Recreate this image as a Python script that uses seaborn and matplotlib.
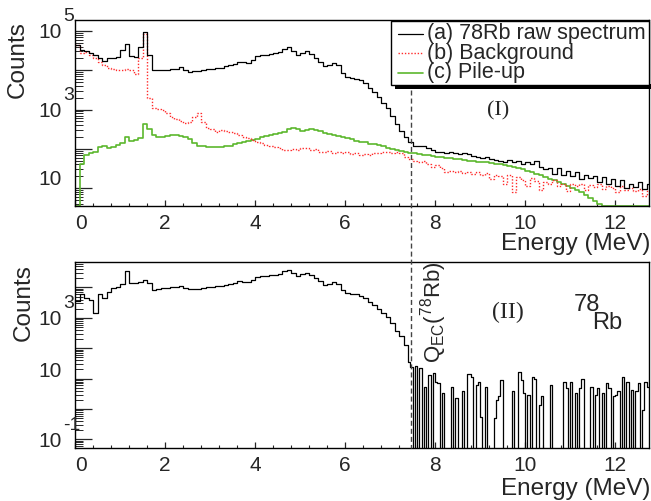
import numpy as np
import pandas as pd
import matplotlib
matplotlib.use("Agg")
import matplotlib.pyplot as plt
import matplotlib.transforms as mtransforms
from matplotlib.lines import Line2D
from matplotlib.patches import Rectangle
from matplotlib.ticker import LogLocator, MultipleLocator, NullFormatter, FixedLocator, FixedFormatter
import seaborn as sns

# ---------------- data ----------------
# top panel: 0.1 MeV bins from 0 to 12.8 MeV
top_edges = np.round(np.arange(0, 12.8 + 1e-9, 0.1), 3)

raw_counts = [
    45000, 32000, 30000, 28000, 24000, 20000, 17000, 20000, 21000, 22000,
    32000, 46000, 23000, 22000, 40000, 95000, 25000, 10000, 10000, 10000,
    10200, 10700, 11000, 12000, 10000, 9100, 9300, 9500, 10000, 10500,
    11000, 11500, 11700, 12600, 13500, 14800, 16200, 15800, 15500, 18600,
    22400, 24500, 24500, 25700, 27000, 29500, 35500, 39000, 31600, 24500,
    27500, 31000, 26300, 21000, 16600, 12600, 13200, 15500, 13200, 8500,
    6800, 6300, 6000, 5500, 4600, 3500, 2750, 2100, 1500, 1120,
    700, 420, 280, 200, 150, 120, 115, 120, 107, 93,
    83, 85, 79, 83, 76, 72, 79, 74, 66, 63,
    60, 63, 55, 52, 48, 46, 52, 45, 50, 42,
    46, 40, 48, 35, 30, 33, 23, 32, 21, 28,
    20, 25, 17, 22, 18, 20, 14, 19, 13, 17,
    11, 16, 10, 12.6, 10.5, 14, 9.5, 12.6,
]

background_counts = [
    45000, 28000, 29000, 25000, 20000, 16000, 13800, 11700, 10700, 10000,
    10000, 10500, 10000, 8000, 20000, 85000, 2000, 1120, 1050, 1000,
    830, 660, 575, 525, 457, 480, 630, 800, 480, 330,
    316, 275, 295, 280, 263, 250, 230, 200, 190, 166,
    151, 138, 126, 120, 112, 105, 95, 91, 100, 93,
    102, 105, 93, 98, 85, 83, 87, 79, 83, 76,
    81, 72, 79, 71, 74, 69, 76, 79, 85, 83,
    79, 85, 76, 63, 55, 50, 46, 48, 42, 35,
    38, 32, 26, 28, 25, 27, 24, 25, 23, 25,
    21, 24, 17, 22, 20, 12.6, 21, 8, 19, 16,
    11, 18, 15, 9, 14, 13, 16, 11, 12.6, 8.3,
    13, 11, 12.6, 9, 12, 10.5, 12.6, 9.5, 11, 10,
    8, 11, 9, 10, 8.3, 9.5, 6.3, 9,
]

pileup_counts = [
    0, 40, 71, 79, 85, 112, 120, 105, 112, 126,
    141, 200, 158, 166, 190, 417, 316, 224, 200, 200,
    209, 219, 219, 209, 200, 178, 141, 120, 115, 112,
    112, 112, 112, 115, 120, 129, 138, 145, 155, 170,
    182, 195, 209, 224, 234, 251, 275, 316, 339, 316,
    288, 302, 324, 309, 282, 251, 234, 224, 214, 200,
    186, 174, 162, 151, 145, 135, 129, 126, 115, 105,
    100, 93, 89, 83, 79, 78, 74, 71, 69, 66,
    63, 62, 59, 58, 55, 54, 52, 50, 49, 47,
    46, 45, 43, 42, 40, 38, 36, 35, 32, 30,
    27.5, 25, 23, 21, 19, 17.4, 15.8, 14.1, 12.9, 11.5,
    10.2, 8.9, 7.8, 6.6, 5.6, 4.8, 4.0, 0, 0, 0,
    0, 0, 0, 0, 0, 0, 0, 0,
]

# bottom panel: 0.1 MeV bins up to 7.4 MeV, then 0.05 MeV bins
net_low_edges = np.round(np.arange(0, 7.4 + 1e-9, 0.1), 3)
net_tail_edges = np.round(np.arange(7.4, 12.75 + 1e-9, 0.05), 3)

net_counts_low = [
    3500, 6300, 4600, 3900, 1450, 6300, 4600, 7100, 9500, 10000,
    12600, 35500, 14100, 14500, 15100, 17400, 14100, 8500, 9100, 9300,
    9800, 10200, 10700, 11500, 9500, 8700, 8900, 8900, 9800, 10200,
    10700, 11200, 11500, 12300, 13200, 14500, 15800, 15500, 15100, 18200,
    21900, 24000, 24000, 25100, 26300, 28800, 34700, 38000, 30900, 24000,
    26900, 30200, 25700, 20400, 16200, 12300, 12900, 15100, 12900, 8300,
    6600, 6200, 5900, 5400, 4400, 3400, 2600, 2000, 1450, 1070,
    660, 380, 250, 126,
]

net_counts_tail = [
    35,
    25, 0, 26, 0, 22, 0, 5.5, 0, 13, 0,
    15, 8, 7, 0, 3.3, 0, 0, 0, 5.5, 0,
    2.3, 0, 0, 3.8, 0, 14, 14, 11.5, 0, 6.3,
    8, 0.54, 0, 5.5, 0, 0, 0, 0.5, 2.0, 2.6,
    9, 0, 0, 0, 0, 3.8, 0, 0, 16, 9,
    3.3, 0, 2.9, 0, 11.5, 9.5, 0, 1.4, 2.6, 0,
    0, 0, 6.3, 0, 0, 0, 0, 0, 8, 4.9,
    0, 8, 0, 3.3, 0, 4.9, 10, 0, 0, 0,
    5.5, 0, 2.9, 4.9, 0, 3.3, 0, 7.4, 4.9, 0,
    2.6, 2.9, 3.8, 0, 11.5, 0, 8, 0, 4.3, 0,
    3.8, 7, 0, 0.93, 8, 5.5,
]

q_ec = 7.46
series_labels = ["(a) 78Rb raw spectrum", "(b) Background", "(c) Pile-up"]

# ---------------- style ----------------
sns.set_style("ticks")
plt.rcParams["font.family"] = ["Liberation Sans", "DejaVu Sans"]
plt.rcParams["mathtext.fontset"] = "custom"
plt.rcParams["mathtext.rm"] = "Liberation Sans"
plt.rcParams["mathtext.it"] = "Liberation Sans:italic"
plt.rcParams["mathtext.bf"] = "Liberation Sans:bold"

W, H = 651, 501
fig = plt.figure(figsize=(W / 100, H / 100), dpi=100)


def box(l, t, r, b):
    return [l / W, 1 - b / H, (r - l) / W, (b - t) / H]


ax1 = fig.add_axes(box(75, 20, 649, 205.5))
ax2 = fig.add_axes(box(75, 262, 649, 448))

BLACK = "#000000"
RED = "#ff2a2a"
GREEN = "#5cb82e"
RED_LS = (0, (1.0, 1.3))


def steps(edges, vals, floor):
    v = np.asarray(vals, float)
    v = np.where(v > 0, v, floor)
    return pd.DataFrame({"E": np.asarray(edges, float), "C": np.append(v, v[-1])})


for ax in (ax1, ax2):
    ax.set_yscale("log")

ylim_top = (3.6, 1.9e5)
ylim_bot = (0.052, 6.9e4)

sns.lineplot(data=steps(top_edges, pileup_counts, ylim_top[0]), x="E", y="C", ax=ax1,
             drawstyle="steps-post", color=GREEN, lw=1.2, estimator=None, sort=False, legend=False)
sns.lineplot(data=steps(top_edges, background_counts, 1e-3), x="E", y="C", ax=ax1,
             drawstyle="steps-post", color=RED, lw=1.0, estimator=None, sort=False, legend=False)
ax1.lines[-1].set_linestyle(RED_LS)
sns.lineplot(data=steps(top_edges, raw_counts, 1e-3), x="E", y="C", ax=ax1,
             drawstyle="steps-post", color=BLACK, lw=0.9, estimator=None, sort=False, legend=False)

bot_edges = np.concatenate([net_low_edges, net_tail_edges[1:]])
bot_vals = list(net_counts_low) + list(net_counts_tail)
sns.lineplot(data=steps(bot_edges, bot_vals, 1e-3), x="E", y="C", ax=ax2,
             drawstyle="steps-post", color=BLACK, lw=0.9, estimator=None, sort=False, legend=False)

ax1.set_ylim(*ylim_top)
ax2.set_ylim(*ylim_bot)

for ax in (ax1, ax2):
    ax.set_xlim(0, 12.75)
    ax.set_xlabel("")
    ax.set_ylabel("")
    for s in ax.spines.values():
        s.set_visible(True)
        s.set_linewidth(1.0)
        s.set_color("black")
    ax.xaxis.set_major_locator(FixedLocator([0, 2, 4, 6, 8, 10, 12]))
    ax.xaxis.set_major_formatter(FixedFormatter(["0", "2", "4", "6", "8", "10", "12"]))
    ax.xaxis.set_minor_locator(MultipleLocator(0.4))
    ax.yaxis.set_major_locator(LogLocator(base=10, numticks=20))
    ax.yaxis.set_minor_locator(LogLocator(base=10, subs=np.arange(2, 10), numticks=40))
    ax.yaxis.set_major_formatter(NullFormatter())
    ax.yaxis.set_minor_formatter(NullFormatter())
    ax.tick_params(axis="x", which="major", direction="in", length=4, width=0.9,
                   labelsize=15, pad=6, top=False)
    ax.tick_params(axis="x", which="minor", direction="in", length=2, width=0.8, top=False)
    ax.tick_params(axis="y", which="major", direction="in", length=12, width=0.9, right=False)
    ax.tick_params(axis="y", which="minor", direction="in", length=6, width=0.7, right=False)
    ax.set_facecolor("white")
    ax.get_xticklabels()[0].set_horizontalalignment("left")


def ylab(ax, decade, plain_dy):
    blend = mtransforms.blended_transform_factory(ax.transAxes, ax.transData)
    if decade == 1:
        ax.annotate("10", xy=(0, 10.0 ** decade), xycoords=blend,
                    xytext=(-13, plain_dy), textcoords="offset pixels",
                    ha="right", va="center", fontsize=15, annotation_clip=False)
    else:
        ax.annotate("10", xy=(0, 10.0 ** decade), xycoords=blend,
                    xytext=(-13, -2), textcoords="offset pixels",
                    ha="right", va="center", fontsize=15, annotation_clip=False)
        ax.annotate(str(decade), xy=(0, 10.0 ** decade), xycoords=blend,
                    xytext=(-12, 14), textcoords="offset pixels",
                    ha="left", va="center", fontsize=14, annotation_clip=False)


for d in (1, 3, 5):
    ylab(ax1, d, 9)
for d in (-1, 1, 3):
    ylab(ax2, d, 7)

# axis titles
fig.text(18 / W, 1 - 21 / H, "Counts", rotation=90, ha="center", va="top", fontsize=17.5)
fig.text(24 / W, 1 - 264 / H, "Counts", rotation=90, ha="center", va="top", fontsize=17.5)
fig.text(650 / W, 1 - 244 / H, "Energy (MeV)", ha="right", va="center", fontsize=17.5)
fig.text(650 / W, 1 - 489 / H, "Energy (MeV)", ha="right", va="center", fontsize=17.5)

# legend (ROOT-like box with shadow)
fig.add_artist(Rectangle((395 / W, 1 - 89 / H), (652 - 395) / W, 4.5 / H,
                         transform=fig.transFigure, fc="black", ec="none", zorder=5))
fig.add_artist(Rectangle((391 / W, 1 - 85 / H), (649 - 391) / W, (85 - 21) / H,
                         transform=fig.transFigure, fc="white", ec="black", lw=1.0, zorder=6))
leg_styles = [dict(color=BLACK, lw=0.9, ls="-"),
              dict(color=RED, lw=1.0, ls=RED_LS),
              dict(color=GREEN, lw=1.2, ls="-")]
for i, (lab, st) in enumerate(zip(series_labels, leg_styles)):
    yc = 1 - (34 + 19.3 * i) / H
    fig.add_artist(Line2D([398 / W, 423 / W], [yc, yc], transform=fig.transFigure, zorder=7, **st))
    fig.text(427 / W, yc, lab, ha="left", va="center", fontsize=15.5, zorder=7)

# panel annotations
fig.text(498 / W, 1 - 111 / H, "(I)", ha="center", va="center", fontsize=16,
         family=["Liberation Serif", "DejaVu Serif"])
fig.text(508 / W, 1 - 312 / H, "(II)", ha="center", va="center", fontsize=17,
         family=["Liberation Serif", "DejaVu Serif"])
fig.text(587 / W, 1 - 305 / H, "78", ha="center", va="center", fontsize=17)
fig.text(607 / W, 1 - 323 / H, "Rb", ha="center", va="center", fontsize=17)
fig.text(434 / W, 1 - 363 / H, r"Q$_{\rm EC}$($^{78}$Rb)", rotation=90,
         ha="center", va="bottom", fontsize=16)

# Q_EC dashed marker spanning both panels
fig.canvas.draw()
xd = ax1.transData.transform((q_ec, 10.0))[0] / W
fig.add_artist(Line2D([xd, xd], [1 - 90 / H, 1 - 448 / H], transform=fig.transFigure,
                      color="#444444", lw=1.0, ls=(0, (3.6, 2.2)), zorder=8))

fig.savefig("out.png", dpi=100)
